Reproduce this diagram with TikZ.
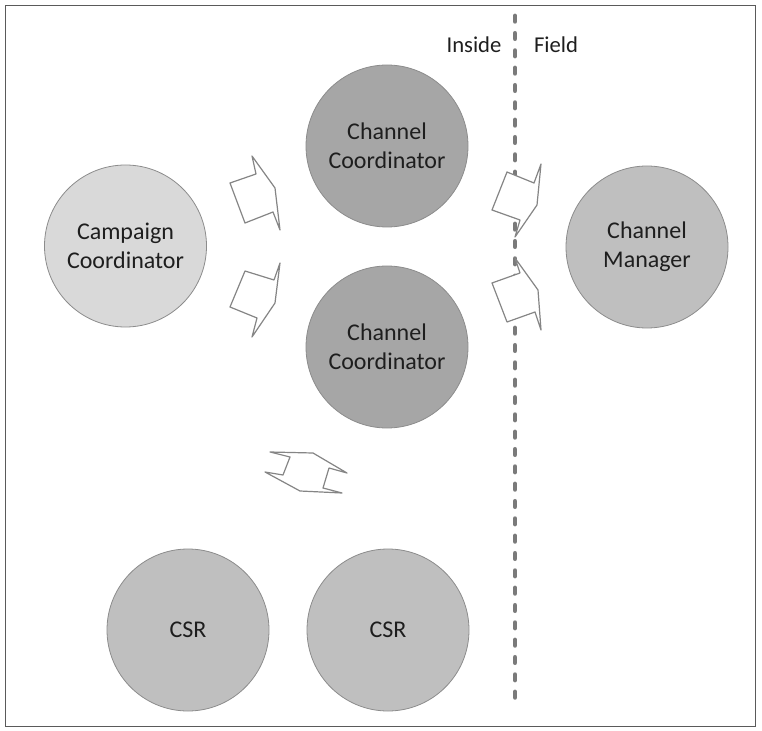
\documentclass[tikz,border=0pt]{standalone}
\usepackage{fontspec}
\setmainfont{Carlito}
\definecolor{frameline}{HTML}{5A5A5A}
\definecolor{ringline}{HTML}{8C8C8C}
\definecolor{lightfill}{HTML}{D9D9D9}
\definecolor{midfill}{HTML}{BFBFBF}
\definecolor{darkfill}{HTML}{A6A6A6}
\definecolor{divider}{HTML}{7A7A7A}
\definecolor{blockline}{HTML}{858585}
\definecolor{labeltext}{HTML}{1E1E1E}
\tikzset{
  role/.style={circle, draw=ringline, line width=0.6pt, minimum size=121.5pt, inner sep=0pt,
    align=center, text=labeltext, font=\fontsize{18}{21.75}\selectfont},
  lightrole/.style={role, fill=lightfill},
  midrole/.style={role, fill=midfill},
  darkrole/.style={role, fill=darkfill},
  sidelabel/.style={text=labeltext, font=\fontsize{17}{20}\selectfont},
  blockarrow/.style={draw=blockline, fill=white, line width=0.9pt, line join=round},
}
\begin{document}
\begin{tikzpicture}[x=0.75pt, y=-0.75pt]
\useasboundingbox (0,0) rectangle (762,730);
% outer frame
\draw[frameline, line width=1.3pt] (5.5,5.5) rectangle (755.5,726.5);

% inside / field divider
\draw[divider, line width=3.6pt, line cap=round, dash pattern=on 4pt off 9pt] (515,16) -- (515,704);
\node[sidelabel] (inside) at (474,45) {Inside};
\node[sidelabel] (field) at (556,45) {Field};

% roles
\node[lightrole] (campaign) at (125.5,246) {Campaign\\Coordinator};
\node[darkrole] (chanA) at (387,146) {Channel\\Coordinator};
\node[darkrole] (chanB) at (387,347) {Channel\\Coordinator};
\node[midrole] (manager) at (647,247) {Channel\\Manager};
\node[midrole] (csrA) at (188,630) {CSR};
\node[midrole] (csrB) at (388,630) {CSR};

% block arrows between roles
\draw[blockarrow] (252,156) -- (256,174) -- (230,183) -- (245,223) -- (273,212) -- (280,230) -- (275,188) -- cycle;
\draw[blockarrow] (280,263) -- (274,280) -- (245,271) -- (230,307) -- (257,318) -- (252,337) -- (275,303) -- cycle;
\draw[blockarrow] (541,164) -- (534,183) -- (507,172) -- (492,210) -- (520,220) -- (515,237) -- (537,205) -- cycle;
\draw[blockarrow] (515,258) -- (520,273) -- (492,283) -- (507,322) -- (535,312) -- (541,330) -- (538,290) -- cycle;
\draw[blockarrow] (270,452) -- (313,453) -- (347,473) -- (329,468) -- (323,488) -- (342,493) -- (300,491) -- (265,472) -- (283,475) -- (290,457) -- cycle;
\end{tikzpicture}
\end{document}
